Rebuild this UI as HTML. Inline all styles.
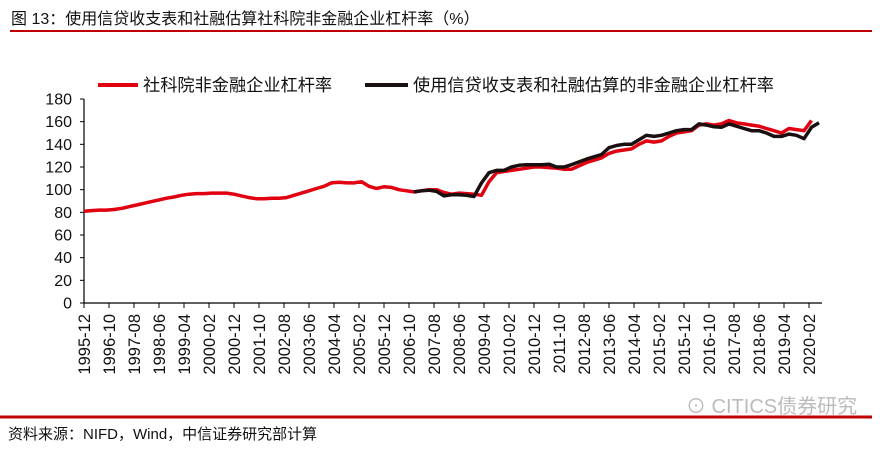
<!DOCTYPE html>
<html><head><meta charset="utf-8"><style>
body{margin:0;background:#fff;width:880px;height:445px;overflow:hidden;font-family:"Liberation Sans","Noto Sans CJK SC",sans-serif;}
</style></head><body>
<svg width="880" height="445" xmlns="http://www.w3.org/2000/svg" style="font-family:'Liberation Sans','Noto Sans CJK SC',sans-serif">
<text x="11" y="24" font-size="16" fill="#111">图 13：使用信贷收支表和社融估算社科院非金融企业杠杆率（%）</text>
<line x1="10" y1="31" x2="872" y2="31" stroke="#c00000" stroke-width="2"/>
<g>
<line x1="98" y1="85" x2="138" y2="85" stroke="#e00010" stroke-width="4"/>
<text x="143" y="91" font-size="17.2" fill="#111">社科院非金融企业杠杆率</text>
<line x1="365" y1="85" x2="408" y2="85" stroke="#1a1010" stroke-width="4"/>
<text x="413" y="91" font-size="17.2" fill="#111">使用信贷收支表和社融估算的非金融企业杠杆率</text>
</g>
<g id="axes"></g>
<g id="plot"></g>
<line x1="0" y1="417" x2="872" y2="417" stroke="#c00000" stroke-width="3"/>
<text x="686" y="413" font-size="20" fill="#bbb">⊙ CITICS债券研究</text>
<text x="8" y="439" font-size="15" fill="#111">资料来源：NIFD，Wind，中信证券研究部计算</text>
</svg>
<script>
const yTicks=[0,20,40,60,80,100,120,140,160,180];
const xLabels=["1995-12","1996-10","1997-08","1998-06","1999-04","2000-02","2000-12","2001-10","2002-08","2003-06","2004-04","2005-02","2005-12","2006-10","2007-08","2008-06","2009-04","2010-02","2010-12","2011-10","2012-08","2013-06","2014-04","2015-02","2015-12","2016-10","2017-08","2018-06","2019-04","2020-02"];
// quarterly, starting 1995-12
const cassSeries=[81,
81.5,82,82,82.5, 83.5,85,86.5,88, 89.5,91,92.5,93.5, 95,96,96.5,96.5,
97,97,97,96, 94.5,93,92,92, 92.5,92.5,93,95, 97,99,101,103,
106,106.5,106,106, 107,103,101,102.5, 102,100,99,98, 99,100,100,97.5,
96,97,96.5,96, 95,107,115,116, 117,118,119,120, 120,119.5,119,118,
118,121,124,126, 128,132,134,135, 136,140,143,142, 143,147,150,151,
152,157,158,157, 158,161,159,158, 157,156,154,152, 150,154,153,152, 161];
// starting 2006-12 (quarter index 44)
const estStart=44;
const estSeries=[98,
99,99.5,98.5,94.5, 95.5,95.5,95,94, 106,115,117,117, 120,121.5,122,122,
122,122.5,120,120, 122,124.5,127,129, 131,137,139,140, 140,144,148,147,
148,150,152,153, 153,158,157,155.5, 155,158,156,154, 152,152,150,147,
147,149,148,145, 155,159];
const X0=84, Y0=303, PXM=2.5, PXV=(303-99)/180;
const xm=m=>X0+m*PXM, yv=v=>Y0-v*PXV, xq=i=>xm(i*3);
const NS="http://www.w3.org/2000/svg";
const ax=document.getElementById('axes'), pl=document.getElementById('plot');
function mk(t,a,p){const e=document.createElementNS(NS,t);for(const k in a)e.setAttribute(k,a[k]);p.appendChild(e);return e;}
let e=mk('line',{x1:X0,y1:yv(0),x2:X0,y2:yv(180),stroke:'#000','stroke-width':1.2},ax);


e=mk('line',{x1:X0,y1:Y0,x2:822,y2:Y0,stroke:'#000','stroke-width':1.2},ax);


yTicks.forEach(v=>{
 const t=mk('line',{x1:X0-4,y1:yv(v),x2:X0,y2:yv(v),stroke:'#000'},ax);
 
 
 const l=mk('text',{x:X0-12,y:yv(v)+5.5,'font-size':16,'text-anchor':'end',fill:'#111'},ax);
 l.textContent=v;
 
 
});
xLabels.forEach((s,i)=>{
 const x=xm(i*10);
 const t=mk('line',{x1:x,y1:Y0,x2:x,y2:Y0+5,stroke:'#000'},ax);
 
 
 const l=mk('text',{x:0,y:0,'font-size':16.5,'text-anchor':'end',fill:'#111',transform:`translate(${x+6},${Y0+11}) rotate(-90)`},ax);
 l.textContent=s;
 
 
});
function path(arr,start){return arr.map((v,i)=>(i?'L':'M')+xq(start+i).toFixed(1)+','+yv(v).toFixed(1)).join('');}
e=mk('path',{d:path(cassSeries,0),fill:'none',stroke:'#e00010','stroke-width':3.5,'stroke-linejoin':'round'},pl);


e=mk('path',{d:path(estSeries,estStart),fill:'none',stroke:'#1a1010','stroke-width':3.5,'stroke-linejoin':'round'},pl);


</script>
</body></html>
